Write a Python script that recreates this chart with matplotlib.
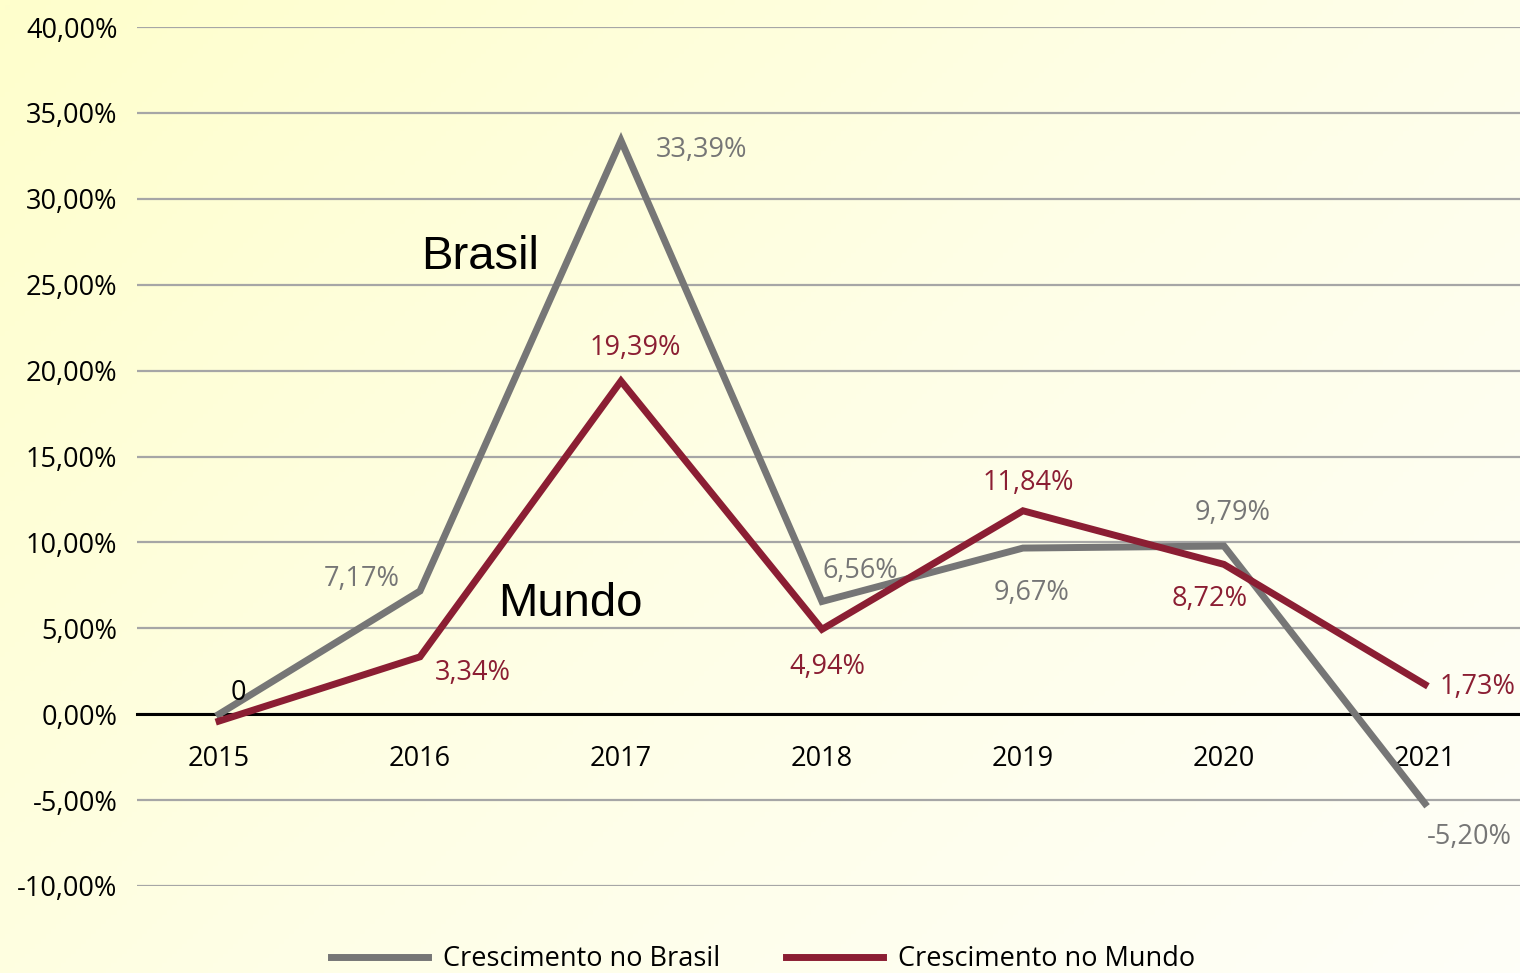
import numpy as np
import matplotlib
matplotlib.use("Agg")
import matplotlib.pyplot as plt
from matplotlib.colors import LinearSegmentedColormap

# dados
anos = ['2015', '2016', '2017', '2018', '2019', '2020', '2021']
brasil = [0.0, 7.17, 33.39, 6.56, 9.67, 9.79, -5.20]
mundo = [-0.4, 3.34, 19.39, 4.94, 11.84, 8.72, 1.73]
rotulos_brasil = ['0', '7,17%', '33,39%', '6,56%', '9,67%', '9,79%', '-5,20%']
rotulos_mundo = ['', '3,34%', '19,39%', '4,94%', '11,84%', '8,72%', '1,73%']
yticks = [-10, -5, 0, 5, 10, 15, 20, 25, 30, 35, 40]

cinza = '#767676'
vinho = '#8B1E33'
fonte = ['Open Sans', 'DejaVu Sans']

fig = plt.figure(figsize=(15.2, 9.73), dpi=100)

# fundo em degrade (amarelo no canto superior esquerdo, quase branco no inferior direito)
bg = fig.add_axes([0, 0, 1, 1], zorder=-10)
gx, gy = np.meshgrid(np.linspace(0, 1, 300), np.linspace(0, 1, 200))
grad = 0.6 * gx + 0.4 * gy
cmap = LinearSegmentedColormap.from_list('bg', ['#FFFFCC', '#FEFEE6', '#FEFEF8'])
bg.imshow(grad, cmap=cmap, aspect='auto', extent=[0, 1, 0, 1])
bg.axis('off')

ax = fig.add_axes([137 / 1520, 87 / 973, 1 - 137 / 1520, (886 - 27) / 973])
ax.set_facecolor('none')
x = np.arange(len(anos))

for s in ['left', 'right', 'top']:
    ax.spines[s].set_visible(False)
ax.spines['bottom'].set_position(('data', 0))
ax.spines['bottom'].set_linewidth(2.2)
ax.spines['bottom'].set_zorder(2)

ax.plot(x, brasil, color=cinza, lw=5, solid_joinstyle='miter', zorder=3, label='Crescimento no Brasil')
ax.plot(x, mundo, color=vinho, lw=5, solid_joinstyle='miter', zorder=4, label='Crescimento no Mundo')

ax.set_xlim(-0.408, 6.473)
ax.set_ylim(-10, 40)
ax.set_yticks(yticks)
ax.set_yticklabels([('%.2f' % v).replace('.', ',') + '%' for v in yticks],
                   fontsize=19.5, family=fonte)
ax.yaxis.grid(True, color='#A6A6A6', lw=1.6)
ax.set_axisbelow(True)
ax.tick_params(axis='y', length=0, pad=14)

ax.set_xticks(x)
ax.set_xticklabels(anos, fontsize=19.5, family=fonte)
ax.tick_params(axis='x', length=0, pad=22.5)

# rotulos de dados (deslocamentos em pontos)
off_b = [(14, 15), (-42, 9), (58, -7), (28, 22), (6, -32), (6, 24), (32, -24)]
off_m = [(0, 0), (38, -12), (10, 24), (4, -27), (4, 20), (-10, -25), (38, -2)]
for i in range(len(anos)):
    c_b = 'black' if i == 0 else cinza
    ax.annotate(rotulos_brasil[i], (x[i], brasil[i]), xytext=off_b[i], textcoords='offset points',
                ha='center', va='center', color=c_b, fontsize=19.5, family=fonte, zorder=6)
    if rotulos_mundo[i]:
        ax.annotate(rotulos_mundo[i], (x[i], mundo[i]), xytext=off_m[i], textcoords='offset points',
                    ha='center', va='center', color=vinho, fontsize=19.5, family=fonte, zorder=6)

ax.text(1.3, 26.6, 'Brasil', fontsize=34, family=['Liberation Sans'], ha='center', va='center')
ax.text(1.75, 6.4, 'Mundo', fontsize=34, family=['Liberation Sans'], ha='center', va='center')

fig.legend(loc='center', bbox_to_anchor=(763 / 1520, 14 / 973), ncol=2, frameon=False,
           prop={'family': fonte, 'size': 19.5}, handlelength=3.6, handletextpad=0.55,
           columnspacing=2.4)

fig.savefig('out.png', dpi=100)
